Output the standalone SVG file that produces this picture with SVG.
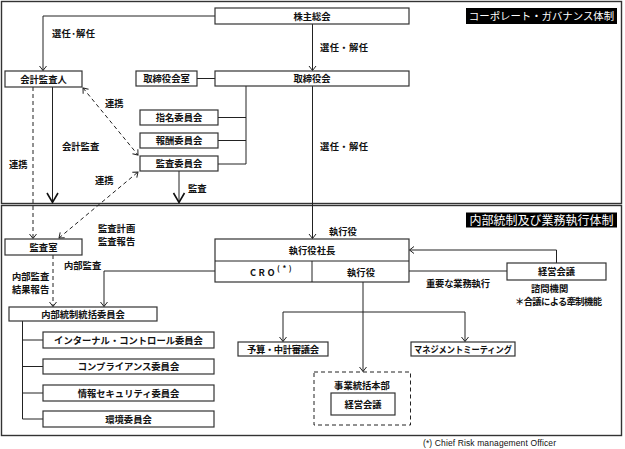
<svg xmlns="http://www.w3.org/2000/svg" width="625" height="449" viewBox="0 0 625 449">
<defs>
<style>
text{font-family:"Noto Sans CJK JP","Noto Sans",sans-serif;font-weight:bold;font-size:9.3px;fill:#111}
.box{fill:#fff;stroke:#333;stroke-width:1.2}
.frame{fill:none;stroke:#333;stroke-width:1.4}
.ln{fill:none;stroke:#222;stroke-width:1}
.dash{fill:none;stroke:#222;stroke-width:1;stroke-dasharray:4 3}
.big{fill:none;stroke:#111;stroke-width:1.6}
.c{text-anchor:middle}
.t1{fill:#fff;font-weight:normal;font-size:10.4px}
.t2{fill:#fff;font-weight:normal;font-size:12px}
.sup{font-size:7.5px}
.foot{font-family:"Liberation Sans",sans-serif;font-weight:normal;font-size:8.5px}
</style>
<marker id="a" viewBox="-6 -5 7 10" refX="0" refY="0" markerWidth="7" markerHeight="10" markerUnits="userSpaceOnUse" orient="auto-start-reverse">
<path d="M-4.5,-3.5 L0,0 L-4.5,3.5" fill="none" stroke="#222" stroke-width="1"/>
</marker>
</defs>
<rect width="625" height="449" fill="#fff"/>
<rect class="frame" x="1.5" y="1.5" width="620" height="202"/>
<rect class="frame" x="1.5" y="205.5" width="620" height="230" stroke="#666"/>

<g id="connectors">
<path class="ln" d="M215,16 H43 V70.5" marker-end="url(#a)"/>
<path class="ln" d="M312.5,24 V70.5" marker-end="url(#a)"/>
<path class="ln" d="M197,78.5 H215"/>
<path class="ln" d="M246,86 V164 M218,117.5 H246 M218,140.5 H246 M218,164 H246"/>
<path class="ln" d="M312.5,86 V238.5" marker-end="url(#a)"/>
<path class="ln" d="M52.5,87 V202.5"/>
<path class="big" d="M47,193 L52.5,202.5 L58,193"/>
<path class="ln" d="M179,171 V202.5"/>
<path class="big" d="M173.5,193 L179,202.5 L184.5,193"/>
<path class="dash" d="M33,87 V238.5" marker-end="url(#a)"/>
<path class="dash" d="M83,88 L138,155" marker-start="url(#a)" marker-end="url(#a)"/>
<path class="dash" d="M59,238 L138,172" marker-start="url(#a)" marker-end="url(#a)"/>
<path class="dash" d="M53,255 V306.5" marker-end="url(#a)"/>
<path class="ln" d="M215,271 H104 V306.5" marker-end="url(#a)"/>
<path class="ln" d="M409,271 H507"/>
<path class="ln" d="M556.5,263 V250 H409.5" marker-end="url(#a)"/>
<path class="ln" d="M363,282 V371.5" marker-end="url(#a)"/>
<path class="ln" d="M465,341.5 V312 H283 V341.5" marker-start="url(#a)" marker-end="url(#a)"/>
<path class="ln" d="M22.5,321 V419 M22.5,340 H43 M22.5,366.5 H43 M22.5,393 H43 M22.5,419 H43"/>
<path class="dash" d="M314,372 H410.5 V425 H314 Z"/>
</g>

<g id="title-cg"><rect x="466" y="8" width="151" height="16" fill="#000"/><text class="t1 c" x="541.5" y="20">コーポレート・ガバナンス体制</text></g>
<g id="title-ic"><rect x="466" y="212.5" width="151" height="15" fill="#000"/><text class="t2 c" x="541.5" y="224.5">内部統制及び業務執行体制</text></g>

<g id="shareholders"><rect class="box" x="215" y="8" width="194" height="16"/><text class="c" x="312" y="19.5">株主総会</text></g>
<g id="board"><rect class="box" x="215" y="71" width="194" height="15"/><text class="c" x="312" y="82">取締役会</text></g>
<g id="board-office"><rect class="box" x="136" y="71" width="61" height="15"/><text class="c" x="166.5" y="82">取締役会室</text></g>
<g id="auditor"><rect class="box" x="5" y="71" width="77" height="16"/><text class="c" x="43.5" y="82.5">会計監査人</text></g>
<g id="nomination"><rect class="box" x="140" y="110" width="78" height="15"/><text class="c" x="179" y="121">指名委員会</text></g>
<g id="compensation"><rect class="box" x="140" y="133" width="78" height="15"/><text class="c" x="179" y="144">報酬委員会</text></g>
<g id="audit-committee"><rect class="box" x="140" y="156" width="78" height="15"/><text class="c" x="179" y="167">監査委員会</text></g>

<g id="audit-office"><rect class="box" x="5" y="239" width="77" height="16"/><text class="c" x="43.5" y="250.5">監査室</text></g>
<g id="ic-committee"><rect class="box" x="9" y="307" width="148" height="14"/><text class="c" x="83" y="317.5">内部統制統括委員会</text></g>
<g id="internal-control"><rect class="box" x="43" y="332" width="171" height="16"/><text class="c" x="128.5" y="343.5">インターナル・コントロール委員会</text></g>
<g id="compliance"><rect class="box" x="43" y="359" width="171" height="15"/><text class="c" x="128.5" y="370">コンプライアンス委員会</text></g>
<g id="infosec"><rect class="box" x="43" y="385" width="171" height="16"/><text class="c" x="128.5" y="396.5">情報セキュリティ委員会</text></g>
<g id="environment"><rect class="box" x="43" y="411" width="171" height="16"/><text class="c" x="128.5" y="422.5">環境委員会</text></g>

<g id="ceo"><rect class="box" x="215" y="239" width="194" height="43"/><path class="ln" d="M215,261 H409 M312,261 V282"/><text class="c" x="312" y="254">執行役社長</text><text x="250" y="275.5" letter-spacing="2.5">CRO<tspan class="sup" dy="-5">(*)</tspan></text><text class="c" x="361" y="275.5">執行役</text></g>
<g id="mgmt-council"><rect class="box" x="507" y="263" width="99" height="17"/><text class="c" x="556.5" y="275">経営会議</text></g>
<g id="budget"><rect class="box" x="238" y="342" width="90" height="14"/><text x="247" y="352.5" textLength="72">予算・中計審議会</text></g>
<g id="mgmt-meeting"><rect class="box" x="411" y="342" width="104" height="14"/><text x="414" y="352.5" textLength="98" lengthAdjust="spacingAndGlyphs">マネジメントミーティング</text></g>
<g id="business-hq"><text class="c" x="362" y="388.5">事業統括本部</text><rect class="box" x="331" y="393" width="64" height="22"/><text class="c" x="363" y="407.5">経営会議</text></g>

<g id="labels">
<text x="52" y="36.5" textLength="43">選任･解任</text>
<text x="320" y="50.5" textLength="48">選任・解任</text>
<text x="320" y="149.5" textLength="48">選任・解任</text>
<text x="105" y="106.5">連携</text>
<text x="62" y="149.5">会計監査</text>
<text x="9" y="167.5">連携</text>
<text x="95" y="183.5">連携</text>
<text x="188" y="191.5">監査</text>
<text x="98" y="231.5">監査計画</text>
<text x="98" y="244.5">監査報告</text>
<text x="64" y="268.5">内部監査</text>
<text x="12" y="279.5">内部監査</text>
<text x="12" y="292.5">結果報告</text>
<text x="329" y="234.5">執行役</text>
<text x="426" y="286.5" textLength="64">重要な業務執行</text>
<text x="531" y="291.5">諮問機関</text>
<text x="515" y="304.5" textLength="87">＊合議による牽制機能</text>
<text class="foot" x="423" y="446" textLength="133">(*)  Chief Risk management Officer</text>
</g>
</svg>
